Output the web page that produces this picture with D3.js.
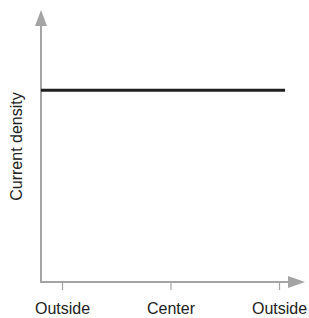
<!DOCTYPE html>
<html>
<head>
<meta charset="utf-8">
<script src="https://cdn.jsdelivr.net/npm/d3@7"></script>
<style>
  body { margin: 0; background: #fff; }
  svg { display: block; }
  text { font-family: "Liberation Sans", Arial, sans-serif; fill: #222; }
</style>
</head>
<body>
<svg id="chart" width="309" height="318"></svg>
<script>
// tick labels along the x axis (position across the conductor)
var tickPos = [0, 0.5, 1];
var tickLabels = ["Outside", "Center", "Outside"];

// current density line (uniform across the section)
var linePos = [-0.097, 1.028];
var lineDensity = [0.705, 0.705];

var axisColor = "#a4a4a4";
var svg = d3.select("#chart");

var x = d3.scaleLinear().domain([0, 1]).range([62, 279]);
var y = d3.scaleLinear().domain([0, 1]).range([282, 10]);

var x0 = 41, y0 = 282;

// axes lines
svg.append("line")
    .attr("x1", x0).attr("y1", y0)
    .attr("x2", x0).attr("y2", 24)
    .attr("stroke", axisColor).attr("stroke-width", 2);
svg.append("line")
    .attr("x1", x0 - 1).attr("y1", y0)
    .attr("x2", 290).attr("y2", y0)
    .attr("stroke", axisColor).attr("stroke-width", 2);

// arrow heads
svg.append("path")
    .attr("d", "M" + x0 + ",10 L" + (x0 + 6) + ",26 L" + (x0 - 6) + ",26 Z")
    .attr("fill", axisColor);
svg.append("path")
    .attr("d", "M305," + y0 + " L288," + (y0 - 6) + " L288," + (y0 + 6) + " Z")
    .attr("fill", axisColor);

// ticks + labels
var xAxis = d3.axisBottom(x)
    .tickValues(tickPos)
    .tickSize(8)
    .tickPadding(13)
    .tickFormat(function (d, i) { return tickLabels[i]; });

var gx = svg.append("g")
    .attr("transform", "translate(0," + y0 + ")")
    .call(xAxis);
gx.select(".domain").remove();
gx.selectAll(".tick line").attr("stroke", axisColor).attr("stroke-width", 1.2);
gx.selectAll(".tick text")
    .style("font-family", "'Liberation Sans', Arial, sans-serif")
    .style("font-size", "16px")
    .attr("fill", "#222");

// y label
svg.append("text")
    .attr("transform", "translate(22," + 146.5 + ") rotate(-90)")
    .attr("text-anchor", "middle")
    .style("font-size", "16px")
    .text("Current density");

// the data line
var pts = linePos.map(function (p, i) { return [p, lineDensity[i]]; });
svg.append("path")
    .datum(pts)
    .attr("d", d3.line().x(function (d) { return x(d[0]); }).y(function (d) { return y(d[1]); }))
    .attr("fill", "none")
    .attr("stroke", "#1f1f1f")
    .attr("stroke-width", 3);
</script>
</body>
</html>
